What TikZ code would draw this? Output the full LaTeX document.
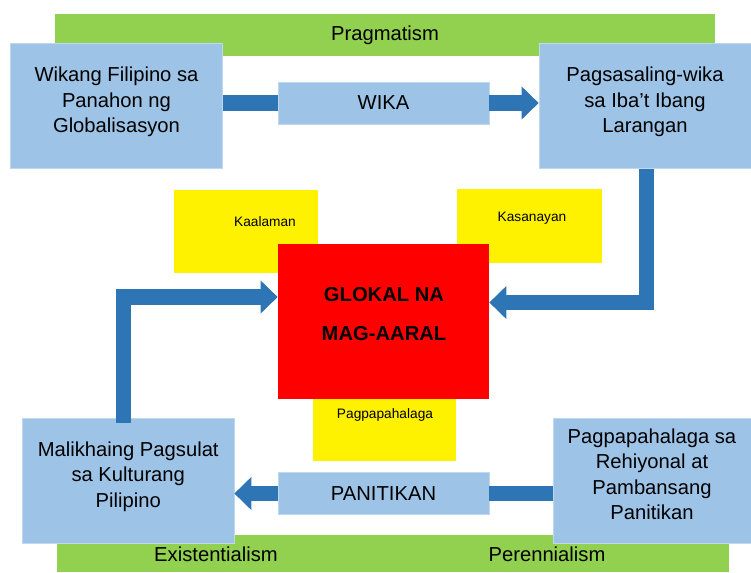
\documentclass[tikz,border=0pt]{standalone}
\usepackage{fontspec}
\setmainfont{Liberation Sans}
\usepackage{xcolor}
\usepackage{tikz}
\usetikzlibrary{arrows.meta,calc}

\definecolor{boxblue}{HTML}{9DC3E6}
\definecolor{arrowblue}{HTML}{2E75B6}
\definecolor{bandgreen}{HTML}{92D050}

\begin{document}
\begin{tikzpicture}[x=0.02cm,y=-0.02cm,
	band/.style={fill=bandgreen,inner sep=0pt,font=\fontsize{11.5}{14.5}\selectfont},
	bandtext/.style={inner sep=0pt,font=\fontsize{11.5}{14.5}\selectfont},
	topic/.style={fill=boxblue,draw=boxblue!65!white,line width=0.4pt,inner sep=0pt,align=center,font=\fontsize{11.5}{14.5}\selectfont},
	bigtopic/.style={topic,minimum height=2.5cm,execute at end node={\rule[-7pt]{0pt}{7pt}}},
	note/.style={fill=yellow,inner sep=0pt},
	notetext/.style={font=\fontsize{7.8}{9}\selectfont,inner sep=0pt},
	core/.style={fill=red,inner sep=0pt},
	link/.style={draw=arrowblue,line width=0.31cm},
	flow/.style={link,-{Triangle[length=0.34cm,width=0.64cm]}}]
	\useasboundingbox (0,0) rectangle (751,572);

	\node[band,minimum width=13.2cm,minimum height=0.84cm] (pragmatism) at (385,35) {Pragmatism};
	\node[band,minimum width=13.44cm,minimum height=0.74cm] (bottomband) at (393,553.5) {};
	\node[bandtext] (existentialism) at (216,554) {Existentialism};
	\node[bandtext] (perennialism) at (547,554) {Perennialism};

	\node[note,minimum width=2.88cm,minimum height=1.66cm] (kaalaman) at (246,231.5) {};
	\node[note,minimum width=2.9cm,minimum height=1.48cm] (kasanayan) at (529.5,226) {};
	\node[note,minimum width=2.86cm,minimum height=1.24cm] (pagpapahalaga) at (384.5,430) {};
	\node[notetext] at (265,222) {Kaalaman};
	\node[notetext] at (532,218) {Kasanayan};
	\node[notetext] at (385,415) {Pagpapahalaga};

	\node[core,minimum width=4.22cm,minimum height=3.1cm] (glokal) at (383.5,321.5) {};
	\node[align=center,font=\bfseries\fontsize{11.5}{22}\selectfont] (glokaltext) at (384,314) {GLOKAL NA\\MAG-AARAL};

	\node[bigtopic,minimum width=4.24cm] (wikang) at (116.5,106) {Wikang Filipino sa\\Panahon ng\\Globalisasyon};
	\node[bigtopic,minimum width=4.24cm] (pagsasalin) at (645,106) {Pagsasaling-wika\\sa Iba't Ibang\\Larangan};
	\node[topic,minimum width=4.22cm,minimum height=0.84cm] (wika) at (383.5,103) {WIKA};
	\node[bigtopic,minimum width=4.23cm] (malikhain) at (128.25,480.5) {Malikhaing Pagsulat\\sa Kulturang\\Pilipino};
	\node[bigtopic,minimum width=3.96cm] (rehiyonal) at (652,480.5) {Pagpapahalaga sa\\Rehiyonal at\\Pambansang\\Panitikan};
	\node[topic,minimum width=4.22cm,minimum height=0.84cm] (panitikan) at (383.5,493.5) {PANITIKAN};

	\draw[link] (wikang.east |- wika.west) -- (wika.west);
	\draw[flow] (wika.east) -- (wika.east -| pagsasalin.west);
	\draw[flow] ($(pagsasalin.south)+(1.5,0)$) |- ($(glokal.east)+(0,-19)$);
	\draw[flow] ($(malikhain.north)+(-5,5)$) |- ($(glokal.west)+(0,-24.5)$);
	\draw[link] (rehiyonal.west |- panitikan.east) -- (panitikan.east);
	\draw[flow] (panitikan.west) -- (panitikan.west -| malikhain.east);
\end{tikzpicture}
\end{document}
